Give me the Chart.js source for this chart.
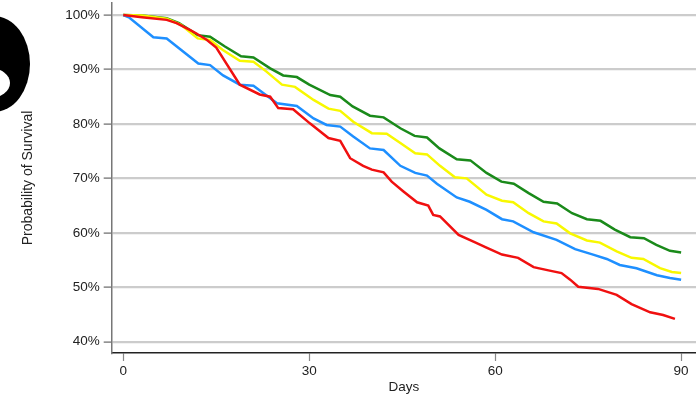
<!DOCTYPE html>
<html>
<head>
<meta charset="utf-8">
<script src="https://cdn.jsdelivr.net/npm/chart.js@4/dist/chart.umd.min.js"></script>
<style>
  html, body { margin: 0; padding: 0; background: #fff; }
  #wrap { position: relative; width: 696px; height: 397px; overflow: hidden; }
  #blob { position: absolute; left: -42px; top: 16px; width: 72px; height: 96px; border-radius: 50%; background: #000; }
  #notch { position: absolute; left: -30px; top: 68px; width: 40px; height: 30px; border-radius: 50%; background: #fff; }
</style>
</head>
<body>
<div id="wrap">
  <canvas id="myChart" width="696" height="397"></canvas>
  <div id="blob"></div>
  <div id="notch"></div>
</div>
<script>
// survival curves (day, % surviving)
const greenDays = [0, 3, 7, 9, 12, 14, 16.4, 19, 21, 23.7, 25.8, 28, 30, 33.4, 35, 37, 39.8, 42, 44.7, 47, 49, 51, 53.8, 56, 58.6, 61, 63, 65.4, 67.8, 70, 72.4, 74.8, 77, 79.3, 81.8, 84, 86, 88.2, 90];
const greenVals = [100, 99.9, 99.4, 98.5, 96.3, 96.0, 94.2, 92.4, 92.2, 90.2, 88.9, 88.6, 87.2, 85.3, 85.0, 83.2, 81.5, 81.2, 79.2, 77.8, 77.5, 75.5, 73.5, 73.3, 71.0, 69.4, 69.0, 67.3, 65.7, 65.4, 63.6, 62.5, 62.2, 60.6, 59.2, 59.0, 57.8, 56.7, 56.4];

const yellowDays = [0, 3, 7, 9.3, 12, 14, 16, 18.8, 21, 23.1, 25.6, 27.7, 30.7, 33.1, 35, 37.1, 40.1, 42.5, 44.7, 47.1, 49, 51.1, 53.5, 55.4, 58.6, 61.1, 62.9, 65.4, 67.8, 69.9, 72.1, 74.8, 76.9, 79.6, 82, 83.9, 86.6, 88.5, 90];
const yellowVals = [100, 99.9, 99.3, 98.2, 95.7, 95.4, 93.6, 91.6, 91.4, 89.6, 87.2, 86.8, 84.4, 82.8, 82.4, 80.4, 78.3, 78.2, 76.5, 74.6, 74.4, 72.3, 70.2, 70.0, 67.0, 65.9, 65.6, 63.6, 62.1, 61.7, 59.9, 58.6, 58.2, 56.6, 55.4, 55.2, 53.5, 52.8, 52.6];

const blueDays = [0, 1, 4.85, 7, 12.1, 14, 16.1, 18.8, 21, 24.8, 28, 30.7, 32.8, 35, 37.1, 39.8, 42, 44.7, 47.1, 49, 50.6, 53.8, 55.9, 58.6, 61.1, 62.9, 66.2, 69.9, 72.9, 75.8, 78, 80.1, 82.8, 86.1, 88.2, 90];
const blueVals = [100, 99.5, 95.9, 95.7, 91.1, 90.8, 88.9, 87.2, 87.0, 83.8, 83.3, 81.0, 79.8, 79.5, 77.7, 75.5, 75.2, 72.3, 71.0, 70.5, 69.0, 66.5, 65.7, 64.2, 62.5, 62.1, 60.1, 58.7, 57.0, 56.0, 55.2, 54.1, 53.5, 52.2, 51.7, 51.4];

const redDays = [0, 3, 7, 8.6, 10.8, 11.8, 13.5, 15, 18.8, 22, 23.7, 25, 27.4, 30.1, 33.1, 35, 36.6, 38.7, 40.1, 42, 43.3, 45.2, 47.4, 49.2, 50, 51.1, 54.1, 56.5, 58.6, 61.1, 63.7, 66.2, 68.6, 70.7, 72.1, 73.4, 76.6, 79.6, 82, 85, 87.1, 89];
const redVals = [100, 99.6, 99.1, 98.5, 97.2, 96.6, 95.4, 94.0, 87.2, 85.4, 85.0, 82.9, 82.7, 80.1, 77.4, 76.9, 73.7, 72.3, 71.6, 71.1, 69.4, 67.6, 65.6, 65.0, 63.3, 63.0, 59.6, 58.4, 57.3, 56.0, 55.4, 53.7, 53.1, 52.6, 51.4, 50.1, 49.7, 48.6, 46.9, 45.4, 44.9, 44.2];

const xTicks = [0, 30, 60, 90];
const yTicks = [40, 50, 60, 70, 80, 90, 100];

function pts(days, vals) {
    return days.map((d, i) => ({ x: d, y: vals[i] }));
}

function line(days, vals, color) {
    return {
        data: pts(days, vals),
        borderColor: color,
        borderWidth: 2.5,
        pointRadius: 0,
        tension: 0,
        fill: false
    };
}

const font = { family: '"Liberation Sans", Arial, sans-serif', size: 13.5 };

var ctx = document.getElementById('myChart').getContext('2d');
new Chart(ctx, {
    type: 'line',
    data: {
        datasets: [
            line(redDays, redVals, '#f01010'),
            line(blueDays, blueVals, '#1e8fff'),
            line(yellowDays, yellowVals, '#f8f800'),
            line(greenDays, greenVals, '#1a8a1a')
        ]
    },
    options: {
        responsive: false,
        animation: false,
        layout: { padding: { top: 3, right: 0, bottom: 0, left: 0 } },
        plugins: { legend: { display: false }, tooltip: { enabled: false } },
        scales: {
            x: {
                type: 'linear',
                min: -1.87,
                max: 92.4,
                afterBuildTicks: (axis) => { axis.ticks = xTicks.map(v => ({ value: v })); },
                afterFit: (axis) => { axis.height = 44; axis.paddingLeft = 0; axis.paddingRight = 0; },
                border: { color: '#222', width: 1.5 },
                grid: { drawOnChartArea: false, tickLength: 8, tickColor: '#888', tickWidth: 1.2 },
                ticks: { color: '#222', font: font, padding: 2, maxRotation: 0 },
                title: { display: true, text: 'Days', color: '#222', font: font, padding: { top: 0, bottom: 2 } }
            },
            y: {
                min: 37.93,
                max: 102.2,
                afterBuildTicks: (axis) => { axis.ticks = yTicks.map(v => ({ value: v })); },
                afterFit: (axis) => { axis.width = 111.7; axis.paddingTop = 0; axis.paddingBottom = 0; },
                border: { color: '#777', width: 1.5 },
                grid: { color: '#cccccc', lineWidth: 2.2, tickLength: 8, tickColor: '#666', tickWidth: 1.2 },
                ticks: { color: '#222', font: font, padding: 4, callback: (v) => v + '%' },
                title: { display: true, text: 'Probability of Survival', color: '#222', font: { family: font.family, size: 14 }, padding: { top: 19.5, bottom: 0 } }
            }
        }
    }
});
</script>
</body>
</html>
